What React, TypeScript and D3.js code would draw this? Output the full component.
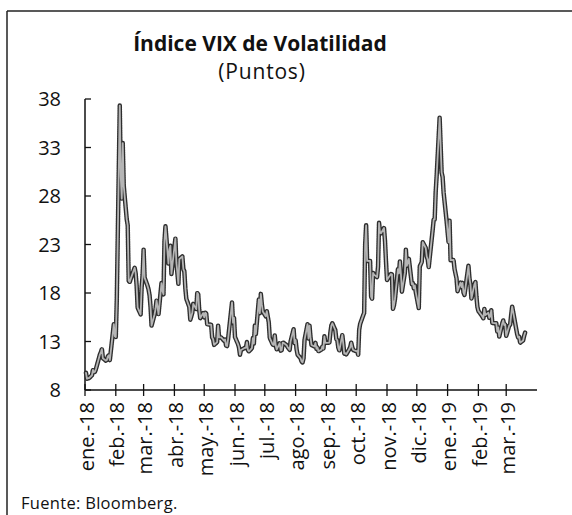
import React from "react";
import * as d3 from "d3";

// ---- Data (VIX daily closes, read/estimated from the reference) ----
const monthLabels = ["ene.-18","feb.-18","mar.-18","abr.-18","may.-18","jun.-18","jul.-18","ago.-18","sep.-18","oct.-18","nov.-18","dic.-18","ene.-19","feb.-19","mar.-19"];
const yTicks = [8, 13, 18, 23, 28, 33, 38];

type DV = [number, number];
const jan18: DV[] = [[2,9.77],[3,9.15],[4,9.22],[5,9.22],[8,9.52],[9,10.08],[10,9.82],[11,9.88],[12,10.16],[16,11.66],[17,11.91],[18,12.22],[19,11.27],[22,11.03],[23,11.1],[24,11.47],[25,11.58],[26,11.08],[29,13.84],[30,14.79],[31,13.54]];
const feb18: DV[] = [[1,13.47],[2,17.31],[5,37.32],[6,29.98],[7,27.73],[8,33.46],[9,29.06],[12,25.61],[13,24.97],[14,19.26],[15,19.13],[16,19.46],[20,20.6],[21,20.02],[22,18.72],[23,16.49],[26,15.8],[27,18.59],[28,19.85]];
const mar18: DV[] = [[1,22.47],[2,19.59],[5,18.73],[6,18.36],[7,17.76],[8,16.54],[9,14.64],[12,15.78],[13,16.35],[14,17.23],[15,16.59],[16,15.8],[19,19.02],[20,18.2],[21,17.86],[22,23.34],[23,24.87],[26,21.03],[27,22.5],[28,22.87],[29,19.97]];
const apr18: DV[] = [[2,23.62],[3,21.1],[4,20.06],[5,18.94],[6,21.49],[9,21.77],[10,20.47],[11,20.24],[12,18.49],[13,17.41],[16,16.56],[17,15.25],[18,15.6],[19,15.96],[20,16.88],[23,16.34],[24,18.02],[25,17.84],[26,16.24],[27,15.41],[30,15.93]];
const may18: DV[] = [[1,15.49],[2,15.97],[3,15.9],[4,14.77],[7,14.75],[8,14.71],[9,13.42],[10,13.23],[11,12.65],[14,12.93],[15,14.63],[16,13.42],[17,13.43],[18,13.42],[21,13.08],[22,13.22],[23,12.58],[24,12.53],[25,13.22],[29,17.02],[30,14.94],[31,15.43]];
const jun18: DV[] = [[1,13.46],[4,12.74],[5,12.4],[6,11.64],[7,12.13],[8,12.18],[11,12.35],[12,12.34],[13,12.94],[14,12.12],[15,11.98],[18,12.31],[19,13.35],[20,12.79],[21,14.64],[22,13.77],[25,17.33],[26,15.92],[27,17.91],[28,16.85],[29,16.09]];
const jul18: DV[] = [[2,15.6],[3,16.14],[5,14.97],[6,13.37],[9,12.69],[10,12.64],[11,13.63],[12,12.58],[13,12.18],[16,12.83],[17,12.06],[18,12.1],[19,12.87],[20,12.86],[23,12.62],[24,12.41],[25,12.29],[26,12.14],[27,13.03],[30,14.26],[31,12.83]];
const aug18: DV[] = [[1,13.15],[2,12.19],[3,11.64],[6,11.27],[7,10.93],[8,10.85],[9,11.27],[10,13.16],[13,14.78],[14,13.31],[15,14.64],[16,13.45],[17,12.64],[20,12.49],[21,12.86],[22,12.25],[23,12.41],[24,11.99],[27,12.16],[28,12.5],[29,12.25],[30,13.53],[31,12.86]];
const sep18: DV[] = [[4,12.88],[5,13.91],[6,14.65],[7,14.88],[10,14.16],[11,13.22],[12,13.14],[13,12.37],[14,12.07],[17,13.68],[18,12.79],[19,11.75],[20,11.8],[21,11.68],[24,12.2],[25,12.42],[26,12.89],[27,12.41],[28,12.12]];
const oct18: DV[] = [[1,12.0],[2,12.05],[3,11.61],[4,14.22],[5,14.82],[8,15.69],[9,15.95],[10,22.96],[11,24.98],[12,21.31],[15,21.3],[16,17.62],[17,17.4],[18,20.06],[19,19.89],[22,19.64],[23,20.71],[24,25.23],[25,24.22],[26,24.16],[29,24.7],[30,23.35],[31,21.23]];
const nov18: DV[] = [[1,19.34],[2,19.51],[5,19.96],[6,19.91],[7,16.36],[8,16.72],[9,17.36],[12,20.45],[13,20.02],[14,21.25],[15,19.98],[16,18.14],[19,20.1],[20,22.48],[21,20.8],[23,21.52],[26,18.9],[27,19.02],[28,18.49],[29,18.79],[30,18.07]];
const dec18: DV[] = [[3,16.44],[4,20.74],[6,21.19],[7,23.23],[10,22.64],[11,21.76],[12,21.46],[13,20.65],[14,21.63],[17,24.52],[18,25.58],[19,25.58],[20,28.38],[21,30.11],[24,36.07],[26,30.41],[27,29.96],[28,28.34],[31,25.42]];
const jan19: DV[] = [[2,23.22],[3,25.45],[4,21.38],[7,21.4],[8,20.47],[9,19.98],[10,19.5],[11,18.19],[14,19.07],[15,18.6],[16,19.04],[17,18.06],[18,17.8],[22,20.8],[23,19.52],[24,18.89],[25,17.42],[28,18.87],[29,19.13],[30,17.66],[31,16.57]];
const feb19: DV[] = [[1,16.14],[4,15.73],[5,15.57],[6,15.38],[7,16.37],[8,15.72],[11,15.97],[12,15.43],[13,15.65],[14,16.22],[15,14.91],[19,14.88],[20,14.02],[21,14.46],[22,13.51],[25,14.85],[26,15.17],[27,14.7],[28,14.78]];
const mar19: DV[] = [[1,13.57],[4,14.63],[5,14.74],[6,15.74],[7,16.59],[8,16.05],[11,14.33],[12,13.77],[13,13.41],[14,13.5],[15,12.88],[18,13.1],[19,13.56],[20,13.91]];

const months: [number, number, DV[]][] = [
  [2018, 0, jan18],[2018, 1, feb18],[2018, 2, mar18],[2018, 3, apr18],[2018, 4, may18],[2018, 5, jun18],
  [2018, 6, jul18],[2018, 7, aug18],[2018, 8, sep18],[2018, 9, oct18],[2018, 10, nov18],[2018, 11, dec18],
  [2019, 0, jan19],[2019, 1, feb19],[2019, 2, mar19],
];

const points = months.flatMap(([y, m, arr]) => arr.map(([d, v]) => ({ date: new Date(y, m, d), v })));
const tickDates = months.map(([y, m]) => new Date(y, m, 1));

const W = 572, H = 515;
const FONT = "'Open Sans', 'DejaVu Sans', sans-serif";

export default function App() {
  const x = d3.scaleTime().domain([new Date(2018, 0, 1), new Date(2019, 3, 1)]).range([85, 537]);
  const y = d3.scaleLinear().domain([8, 38]).range([390, 99]);
  const line = d3.line<{ date: Date; v: number }>().x(p => x(p.date)).y(p => y(p.v));
  const d = line(points) || "";

  return (
    <svg width={W} height={H} style={{ position: "absolute", left: 0, top: 0, background: "#fff" }} fontFamily={FONT}>
      {/* frame */}
      <line x1={7} y1={11} x2={W} y2={11} stroke="#222" strokeWidth={1.5} />
      <line x1={7} y1={11} x2={7} y2={H} stroke="#222" strokeWidth={1.5} />

      {/* title */}
      <text x={260} y={51} textAnchor="middle" fontSize={21} fontWeight={700} fill="#111">Índice VIX de Volatilidad</text>
      <text x={262} y={79} textAnchor="middle" fontSize={21} letterSpacing={0.8} fill="#111">(Puntos)</text>

      {/* y axis */}
      <line x1={85} y1={y(38)} x2={85} y2={y(8)} stroke="#111" strokeWidth={1.5} />
      {yTicks.map(t => (
        <g key={t}>
          <line x1={85} x2={91} y1={y(t)} y2={y(t)} stroke="#111" strokeWidth={1.3} />
          <text x={61} y={y(t)} dy="0.36em" textAnchor="end" fontSize={20} fill="#111">{t}</text>
        </g>
      ))}

      {/* x axis */}
      <line x1={85} y1={390} x2={537} y2={390} stroke="#111" strokeWidth={1.5} />
      {tickDates.map((dt, i) => (
        <g key={i}>
          <line x1={x(dt)} x2={x(dt)} y1={384} y2={396} stroke="#111" strokeWidth={1.3} />
          <text transform={`translate(${x(dt) + 1.5},402) rotate(-90)`} dy="0.36em" textAnchor="end" fontSize={20} fill="#111">{monthLabels[i]}</text>
        </g>
      ))}

      {/* series: scanned dotted-band look */}
      <path d={d} fill="none" stroke="#2e2e2e" strokeWidth={4.5} strokeDasharray="1.4 0.9" strokeLinejoin="round" strokeLinecap="round" />
      <path d={d} fill="none" stroke="#b5b5b5" strokeWidth={1.8} strokeLinejoin="round" strokeLinecap="round" />

      {/* source */}
      <text x={21} y={509} fontSize={16.5} letterSpacing={0.3} fill="#111">Fuente: Bloomberg.</text>
    </svg>
  );
}
